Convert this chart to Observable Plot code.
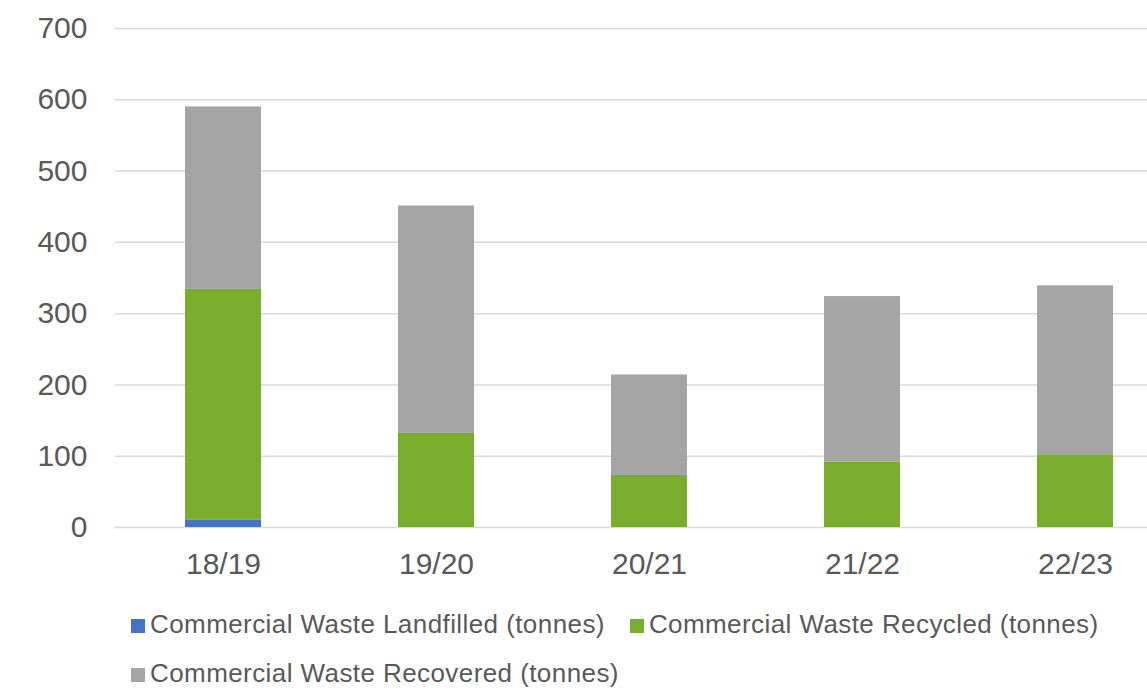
<!DOCTYPE html>
<html>
<head>
<meta charset="utf-8">
<script src="https://cdn.jsdelivr.net/npm/d3@7"></script>
<script src="https://cdn.jsdelivr.net/npm/@observablehq/plot@0.6"></script>
<style>
  html, body { margin: 0; padding: 0; background: #fff; overflow: hidden; width: 1147px; height: 695px; }
  #wrap { position: relative; width: 1147px; height: 695px; overflow: hidden; font-family: "Liberation Sans", Arial, sans-serif; }
  #chart { position: absolute; left: 0; top: 0; width: 1183px; }
  #chart svg { max-width: none !important; width: 1183px; height: 600px; }
  #legend { position: absolute; left: 131px; top: 609px; width: 1000px; display: flex; flex-wrap: wrap; column-gap: 25px; row-gap: 19px; }
  .item { display: flex; align-items: center; height: 30px; line-height: 30px; font-size: 26px; letter-spacing: 0.42px; color: #595959; white-space: nowrap; }
  .sw { width: 14px; height: 14px; margin-right: 5px; position: relative; top: 2px; }
</style>
</head>
<body>
<div id="wrap">
  <div id="chart"></div>
  <div id="legend"></div>
</div>
<script>
const years = ["18/19", "19/20", "20/21", "21/22", "22/23"];
const seriesNames = [
  "Commercial Waste Landfilled (tonnes)",
  "Commercial Waste Recycled (tonnes)",
  "Commercial Waste Recovered (tonnes)"
];
const seriesColors = ["#4472C4", "#7AAC2D", "#A5A5A5"];
const landfilled = [10, 0, 0, 0, 0];
const recycled = [324, 132, 73, 92, 102];
const recovered = [256, 319, 141, 232, 237];
const yTicks = [0, 100, 200, 300, 400, 500, 600, 700];

const seriesValues = [landfilled, recycled, recovered];
const data = [];
seriesNames.forEach((s, si) => {
  years.forEach((y, yi) => {
    data.push({year: y, series: s, value: seriesValues[si][yi]});
  });
});

const chart = Plot.plot({
  width: 1183,
  height: 600,
  marginLeft: 115,
  marginRight: 0,
  marginTop: 28,
  marginBottom: 73,
  style: { fontFamily: "'Liberation Sans', Arial, sans-serif", fontSize: "30px", color: "#595959", background: "transparent", overflow: "visible" },
  x: { domain: years, paddingInner: 0.644, paddingOuter: 0.322, label: null },
  y: { domain: [0, 700], label: null },
  color: { domain: seriesNames, range: seriesColors },
  marks: [
    Plot.gridY(yTicks, { stroke: "#D9D9D9", strokeOpacity: 1, strokeWidth: 1.5 }),
    Plot.barY(data, Plot.stackY({ order: seriesNames }, { x: "year", y: "value", fill: "series" })),
    Plot.axisY(yTicks, { tickSize: 0, tickPadding: 28, label: null, fill: "#595959", fontSize: 30 }),
    Plot.axisX({ tickSize: 0, tickPadding: 25, label: null, fill: "#595959", fontSize: 30 })
  ]
});
document.getElementById("chart").appendChild(chart);

const legend = document.getElementById("legend");
seriesNames.forEach((s, i) => {
  const item = document.createElement("div");
  item.className = "item";
  const sw = document.createElement("span");
  sw.className = "sw";
  sw.style.background = seriesColors[i];
  const t = document.createElement("span");
  t.textContent = s;
  item.appendChild(sw);
  item.appendChild(t);
  legend.appendChild(item);
});
</script>
</body>
</html>
